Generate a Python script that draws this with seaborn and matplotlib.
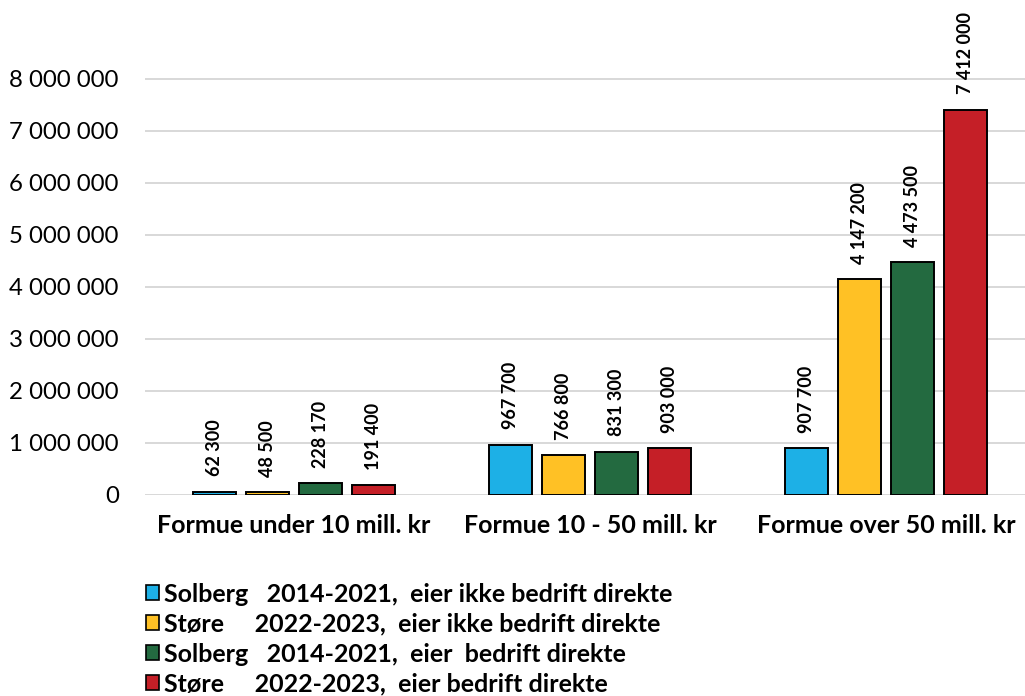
import matplotlib
matplotlib.use("Agg")
import matplotlib.pyplot as plt
import seaborn as sns
import pandas as pd
from matplotlib.patches import Patch
from matplotlib.ticker import FuncFormatter

categories = ["Formue under 10 mill. kr", "Formue 10 - 50 mill. kr", "Formue over 50 mill. kr"]
series = [
    "Solberg   2014-2021,  eier ikke bedrift direkte",
    "Støre     2022-2023,  eier ikke bedrift direkte",
    "Solberg   2014-2021,  eier  bedrift direkte",
    "Støre     2022-2023,  eier bedrift direkte",
]
solberg_ikke = [62300, 967700, 907700]
store_ikke = [48500, 766800, 4147200]
solberg_eier = [228170, 831300, 4473500]
store_eier = [191400, 903000, 7412000]
colors = ["#1DB0E6", "#FFC125", "#236A40", "#C51F27"]
yticks = [0, 1000000, 2000000, 3000000, 4000000, 5000000, 6000000, 7000000, 8000000]

rows = []
for s, vals in zip(series, [solberg_ikke, store_ikke, solberg_eier, store_eier]):
    for c, v in zip(categories, vals):
        rows.append({"cat": c, "series": s, "value": v})
df = pd.DataFrame(rows)

sns.set_theme(style="white")
plt.rcParams["font.family"] = ["Lato", "DejaVu Sans"]
for k in ["text.color", "xtick.color", "ytick.color", "axes.labelcolor"]:
    plt.rcParams[k] = "black"

fig = plt.figure(figsize=(10.25, 6.96), dpi=100)
ax = fig.add_axes([0.1415, 0.2888, 0.8585, 0.68])

sns.barplot(data=df, x="cat", y="value", hue="series", order=categories,
            hue_order=series, palette=colors, saturation=1, width=0.716, gap=0.19,
            edgecolor="black", linewidth=1.4, ax=ax, legend=False, zorder=3)

fmt = lambda v: f"{int(v):,}".replace(",", " ")
for cont in ax.containers:
    ax.bar_label(cont, labels=[fmt(b.get_height()) for b in cont], rotation=90,
                 padding=11, fontsize=13, fontweight="bold", color="black")

ax.set_ylim(0, 9.1e6)
ax.set_xlim(-0.503, 2.47)
ax.set_yticks(yticks)
ax.yaxis.set_major_formatter(FuncFormatter(lambda v, p: fmt(v)))
ax.grid(axis="y", color="#d6d6d6", linewidth=1.3, zorder=0)
ax.set_axisbelow(True)
for sp in ax.spines.values():
    sp.set_visible(False)
ax.tick_params(axis="y", labelsize=17.3, pad=19, length=0)
ax.tick_params(axis="x", labelsize=18, pad=14, length=0)
for t in ax.get_xticklabels():
    t.set_fontweight("bold")
ax.set_xlabel("")
ax.set_ylabel("")

handles = [Patch(facecolor=c, edgecolor="black", linewidth=1.2) for c in colors]
fig.legend(handles, series, loc="upper left", bbox_to_anchor=(0.142, 0.163),
           frameon=False, prop={"weight": "bold", "size": 18},
           handlelength=0.55, handleheight=0.55, handletextpad=0.2,
           labelspacing=0.28, borderaxespad=0, borderpad=0)

fig.savefig("out.png", dpi=100)
